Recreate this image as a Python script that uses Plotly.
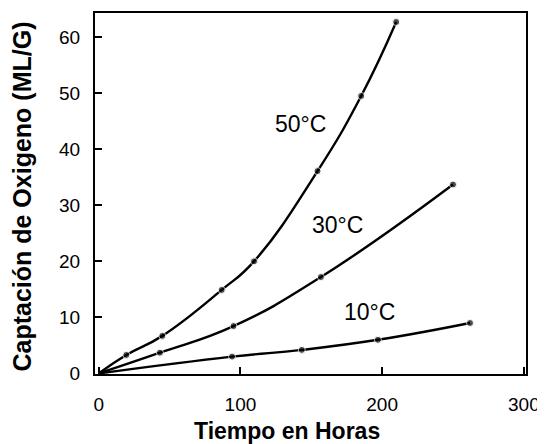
import plotly.graph_objects as go

# Data
x_50 = [0, 19.5, 44.9, 86.8, 109.6, 154.4, 185.2, 209.9]
y_50 = [0, 3.3, 6.7, 14.9, 20.0, 36.1, 49.5, 62.7]

x_30 = [0, 43.2, 95.1, 156.8, 250.0]
y_30 = [0, 3.7, 8.45, 17.2, 33.7]

x_10 = [0, 94.1, 143.3, 197.0, 262.0]
y_10 = [0, 3.0, 4.2, 6.0, 9.0]

series_labels = ["50°C", "30°C", "10°C"]
label_x = [142.3, 168.5, 191.2]
label_y = [44.5, 26.4, 10.9]

x_ticks = [0, 100, 200, 300]
y_ticks = [0, 10, 20, 30, 40, 50, 60]

x_title = "Tiempo en Horas"
y_title = "Captación de Oxigeno (ML/G)"

FONT = "Liberation Sans, Arial, Helvetica, sans-serif"

fig = go.Figure()
for xs, ys, name in [(x_50, y_50, series_labels[0]),
                     (x_30, y_30, series_labels[1]),
                     (x_10, y_10, series_labels[2])]:
    sizes = [0] + [7] * (len(xs) - 1)
    fig.add_trace(go.Scatter(
        x=xs, y=ys, mode="lines+markers", name=name,
        line=dict(color="black", width=2.4, shape="spline", smoothing=1.3),
        marker=dict(color="black", size=sizes),
        showlegend=False,
    ))

for txt, lx, ly in zip(series_labels, label_x, label_y):
    fig.add_annotation(x=lx, y=ly, text=txt, showarrow=False,
                       font=dict(family=FONT, size=23, color="black"))

# Axis titles (x title sits left of the plot centre in the reference)
fig.add_annotation(xref="paper", yref="paper", x=0.445, y=-0.157,
                   text="<b>" + x_title + "</b>", showarrow=False,
                   xanchor="center", yanchor="middle",
                   font=dict(family=FONT, size=23, color="black"))
fig.add_annotation(xref="paper", yref="paper", x=-0.169, y=0.492,
                   text="<b>" + y_title + "</b>", showarrow=False, textangle=-90,
                   xanchor="center", yanchor="middle",
                   font=dict(family=FONT, size=25, color="black"))

axis_common = dict(
    showline=True, linecolor="black", linewidth=2, mirror=True,
    ticks="inside", ticklen=7, tickwidth=2, tickcolor="black",
    showgrid=False, zeroline=False, automargin=False,
    tickfont=dict(family=FONT, size=19, color="black"),
)

fig.update_xaxes(range=[-2.6, 301.5], tickvals=x_ticks,
                 ticklabelstandoff=12, **axis_common)
fig.update_yaxes(range=[-0.1, 64.3], tickvals=y_ticks,
                 ticklabelstandoff=9, **axis_common)

# The page body adds an 8px offset, so the figure is sized to fit the window.
fig.update_layout(
    width=537, height=436,
    margin=dict(l=87, r=19, t=5, b=70),
    plot_bgcolor="white", paper_bgcolor="white",
    font=dict(family=FONT, color="black"),
)

fig.write_html("out.html")
